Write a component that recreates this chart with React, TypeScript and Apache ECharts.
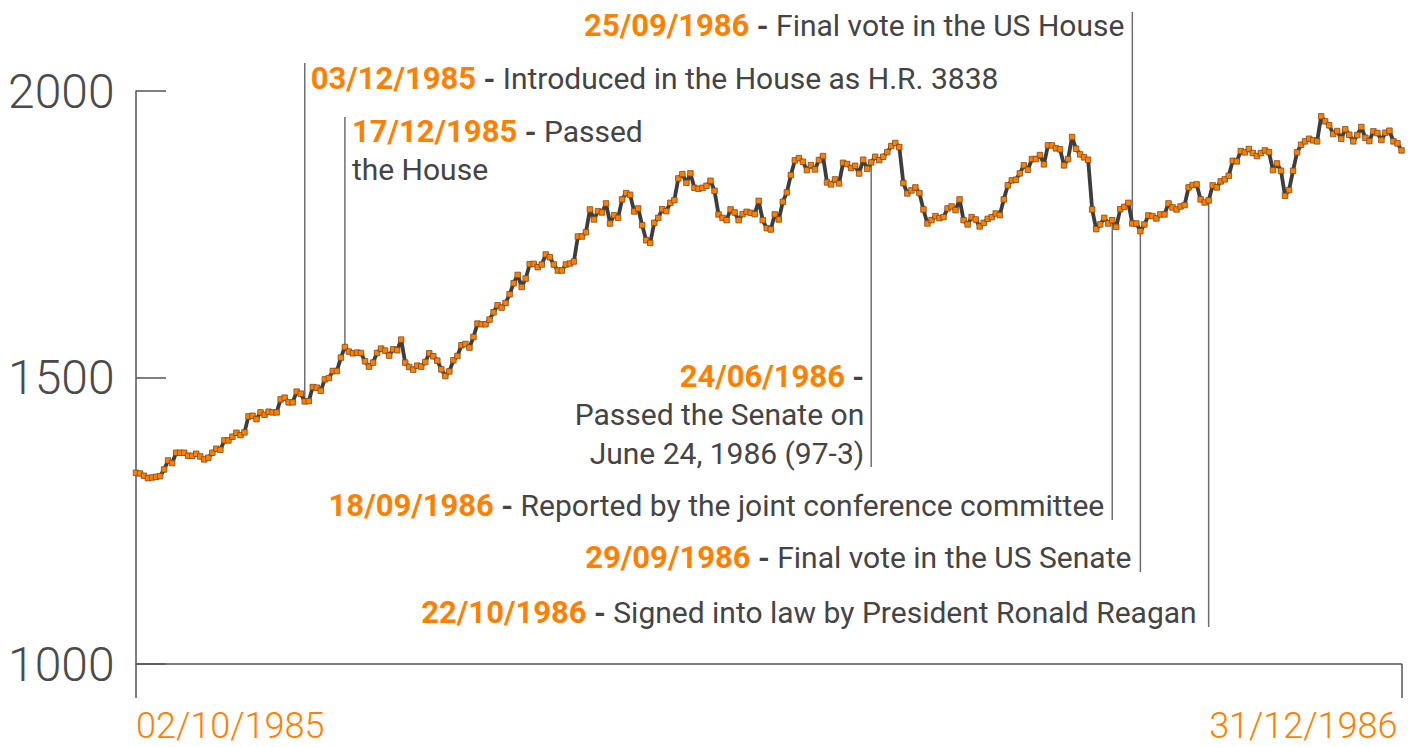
import React, { useEffect, useRef } from "react";
import * as echarts from "echarts";

// Dow Jones daily closes, 02/10/1985 – 31/12/1986
const closes: number[] = [
  1333.7, 1332.5, 1328.5, 1324.3, 1325.5, 1326.7, 1327.8, 1339.5, 1355.2, 1350.6,
  1368.7, 1368.7, 1368.7, 1363.4, 1363.4, 1366.9, 1362.2, 1357.0, 1360.0, 1368.7,
  1375.7, 1373.9, 1390.2, 1390.2, 1396.6, 1403.6, 1399.5, 1404.2, 1432.1, 1433.3,
  1427.4, 1439.1, 1435.0, 1440.3, 1439.1, 1439.1, 1461.8, 1464.8, 1456.6, 1456.6,
  1475.3, 1471.8, 1458.3, 1458.9, 1483.3, 1482.3, 1477.0, 1496.8, 1499.0, 1511.3,
  1511.3, 1534.7, 1553.2, 1545.2, 1542.2, 1543.4, 1542.8, 1528.2, 1519.0, 1526.0,
  1542.8, 1550.4, 1547.0, 1538.2, 1549.2, 1547.5, 1566.1, 1526.0, 1518.3, 1513.7,
  1520.7, 1519.0, 1527.0, 1542.2, 1537.0, 1529.4, 1514.2, 1502.5, 1510.7, 1530.0,
  1537.5, 1556.2, 1558.5, 1552.2, 1570.7, 1594.1, 1592.9, 1592.9, 1601.1, 1613.8,
  1626.1, 1622.0, 1630.1, 1645.3, 1664.5, 1679.0, 1658.0, 1672.7, 1697.7, 1698.3,
  1692.5, 1697.2, 1714.7, 1709.9, 1697.2, 1686.7, 1686.7, 1697.2, 1698.9, 1702.4,
  1746.1, 1746.1, 1753.6, 1793.3, 1775.8, 1790.3, 1788.0, 1803.8, 1768.8, 1783.3,
  1778.6, 1810.8, 1821.8, 1818.8, 1789.8, 1795.0, 1765.8, 1739.6, 1734.9, 1769.9,
  1778.6, 1793.8, 1790.3, 1804.8, 1809.5, 1847.4, 1855.0, 1839.8, 1856.2, 1831.0,
  1829.3, 1831.0, 1834.5, 1843.3, 1825.8, 1784.6, 1778.6, 1774.6, 1793.3, 1788.0,
  1774.6, 1785.1, 1789.1, 1787.4, 1785.1, 1808.3, 1774.6, 1760.6, 1758.3, 1784.6,
  1775.8, 1806.6, 1823.0, 1853.2, 1878.9, 1882.9, 1876.5, 1861.9, 1870.7, 1863.1,
  1879.4, 1886.4, 1840.4, 1837.0, 1845.7, 1838.7, 1874.7, 1872.5, 1865.5, 1869.5,
  1856.0, 1880.0, 1864.3, 1875.4, 1885.2, 1879.4, 1885.2, 1893.4, 1903.9, 1909.2,
  1902.0, 1839.3, 1821.2, 1826.5, 1831.7, 1821.8, 1793.3, 1768.8, 1774.6, 1781.6,
  1778.1, 1779.9, 1795.0, 1798.5, 1792.1, 1810.8, 1774.6, 1767.1, 1779.9, 1775.8,
  1763.6, 1769.9, 1776.9, 1779.9, 1786.3, 1783.3, 1810.8, 1835.3, 1844.0, 1845.1,
  1856.2, 1870.2, 1862.5, 1881.2, 1881.2, 1888.2, 1872.0, 1905.1, 1905.1, 1899.9,
  1898.2, 1870.2, 1881.2, 1919.6, 1899.2, 1889.4, 1884.2, 1880.0, 1793.3, 1758.9,
  1767.1, 1778.6, 1768.8, 1774.6, 1762.9, 1793.8, 1797.8, 1804.8, 1768.8, 1768.8,
  1755.4, 1767.1, 1782.8, 1781.6, 1777.6, 1784.6, 1784.6, 1803.8, 1796.8, 1793.3,
  1798.5, 1800.8, 1831.7, 1835.8, 1837.0, 1810.8, 1805.5, 1809.0, 1835.3, 1831.7,
  1842.2, 1845.7, 1852.0, 1878.2, 1877.1, 1895.2, 1892.9, 1898.7, 1891.7, 1886.4,
  1891.7, 1896.3, 1893.4, 1861.9, 1873.6, 1860.8, 1817.0, 1827.0, 1860.8, 1892.9,
  1906.2, 1912.1, 1916.7, 1913.9, 1912.1, 1955.8, 1947.1, 1940.1, 1924.9, 1930.1,
  1916.7, 1933.1, 1923.7, 1912.1, 1923.1, 1937.1, 1918.4, 1912.6, 1929.6, 1926.6,
  1914.4, 1927.2, 1930.7, 1912.1, 1908.6, 1896.3,
];

const xEdgeLabels = ["02/10/1985", "31/12/1986"];
const yRange = [1000, 2000];
const yStep = 500;

// Events: index into closes, date, text lines
const eventIndex = [42, 52, 183, 243, 248, 250, 267];
const eventDates = ["03/12/1985", "17/12/1985", "24/06/1986", "18/09/1986", "25/09/1986", "29/09/1986", "22/10/1986"];
const eventTexts: string[][] = [
  ["Introduced in the House as H.R. 3838"],
  ["Passed", "the House"],
  ["", "Passed the Senate on", "June 24, 1986 (97-3)"],
  ["Reported by the joint conference committee"],
  ["Final vote in the US House"],
  ["Final vote in the US Senate"],
  ["Signed into law by President Ronald Reagan"],
];

// Layout of the annotations (pixels)
const eventLayout = [
  { side: "right", lineEnd: 63, textY: 78, gap: 6 },
  { side: "right", lineEnd: 117, textY: 131, gap: 7 },
  { side: "left", lineEnd: 467, textY: 376, gap: 7 },
  { side: "left", lineEnd: 520, textY: 505, gap: 8 },
  { side: "left", lineEnd: 12, textY: 25, gap: 8 },
  { side: "left", lineEnd: 572, textY: 557, gap: 9 },
  { side: "left", lineEnd: 627, textY: 612, gap: 12 },
];

const FONT = "Roboto, 'Noto Sans', sans-serif";
const ORANGE = "#ff7f00";
const GREY = "#444444";
const AXIS = "#555555";

export default function App() {
  const ref = useRef<HTMLDivElement>(null);

  useEffect(() => {
    if (!ref.current) return;
    const chart = echarts.init(ref.current, undefined, { renderer: "svg" });
    const last = closes.length - 1;
    const cats = closes.map((_, i) => (i === 0 ? xEdgeLabels[0] : i === last ? xEdgeLabels[1] : String(i)));

    chart.setOption({
      animation: false,
      backgroundColor: "#ffffff",
      grid: { left: 136, right: 11.5, top: 91, bottom: 83, containLabel: false },
      xAxis: {
        type: "category",
        data: cats,
        boundaryGap: false,
        axisLine: { show: true, lineStyle: { color: AXIS, width: 1.5 } },
        axisTick: {
          show: true,
          length: 34,
          interval: (i: number) => i === 0 || i === last,
          lineStyle: { color: AXIS, width: 1.5 },
        },
        axisLabel: {
          interval: (i: number) => i === 0 || i === last,
          color: ORANGE,
          fontFamily: FONT,
          fontWeight: 300,
          fontSize: 36,
          margin: 44,
          alignMinLabel: "left",
          alignMaxLabel: "right",
          padding: [0, 4, 0, 0],
        },
        splitLine: { show: false },
      },
      yAxis: {
        type: "value",
        min: yRange[0],
        max: yRange[1],
        interval: yStep,
        axisLine: { show: true, lineStyle: { color: AXIS, width: 1.5 } },
        axisTick: { show: true, inside: true, length: 30, lineStyle: { color: AXIS, width: 1.5 } },
        splitLine: { show: false },
        axisLabel: {
          color: "#4a4a4a",
          fontFamily: FONT,
          fontWeight: 300,
          fontSize: 48,
          align: "left",
          margin: 128,
          formatter: (v: number) => String(v),
        },
      },
      series: [
        {
          type: "line",
          data: closes,
          symbol: "rect",
          symbolSize: 5.5,
          showAllSymbol: true,
          z: 3,
          lineStyle: { color: "#3d3d3d", width: 3.8 },
          itemStyle: { color: ORANGE, borderColor: "#7a4a1c", borderWidth: 0.8 },
        },
      ],
    });

    const rich = {
      d: { fill: ORANGE, fontWeight: "bold", fontSize: 31, fontFamily: FONT },
      s: { fill: GREY, fontWeight: "bold", fontSize: 30, fontFamily: FONT },
      t: { fill: GREY, fontWeight: "normal", fontSize: 30, fontFamily: FONT },
    };

    const graphics: any[] = [];
    eventIndex.forEach((idx, k) => {
      const p = chart.convertToPixel({ gridIndex: 0 }, [idx, closes[idx]]) as number[];
      const L = eventLayout[k];
      graphics.push({
        type: "line",
        z: 1,
        shape: { x1: p[0], y1: p[1], x2: p[0], y2: L.lineEnd },
        style: { stroke: "#6e6e6e", lineWidth: 1.5 },
      });
      const tx = L.side === "right" ? p[0] + L.gap : p[0] - L.gap;
      eventTexts[k].forEach((line, j) => {
        let txt = "";
        if (j === 0) {
          txt = `{d|${eventDates[k]}} {s|-}` + (line ? ` {t|${line}}` : "");
        } else {
          txt = `{t|${line}}`;
        }
        graphics.push({
          type: "text",
          z: 5,
          x: tx,
          y: L.textY + j * 38.5,
          style: {
            text: txt,
            rich,
            align: L.side === "right" ? "left" : "right",
            verticalAlign: "middle",
            fontSize: 30,
            fontFamily: FONT,
            fill: GREY,
          },
        });
      });
    });
    chart.setOption({ graphic: { elements: graphics } });

    return () => chart.dispose();
  }, []);

  return (
    <div
      ref={ref}
      style={{ position: "absolute", left: 0, top: 0, width: 1413, height: 747, background: "#fff" }}
    />
  );
}
